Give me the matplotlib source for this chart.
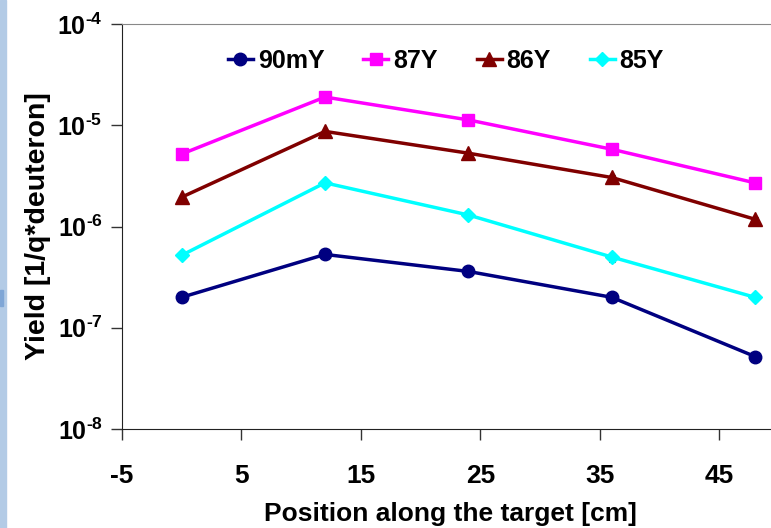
import matplotlib
matplotlib.use("Agg")
import matplotlib.pyplot as plt
from matplotlib.patches import Rectangle

# ── Data ─────────────────────────────────────────────────────────────────────
position = [0, 12, 24, 36, 48]                       # cm
yield_90mY = [2.0e-7, 5.3e-7, 3.6e-7, 2.0e-7, 5.2e-8]
yield_87Y  = [5.2e-6, 1.9e-5, 1.13e-5, 5.8e-6, 2.7e-6]
yield_86Y  = [1.95e-6, 8.7e-6, 5.3e-6, 3.05e-6, 1.18e-6]
yield_85Y  = [5.2e-7, 2.7e-6, 1.3e-6, 5.0e-7, 2.0e-7]

# small error bars visible only on the last two points of 86Y / 85Y
err_86Y = [0, 0, 0, 0.15e-6, 0.07e-6]
err_85Y = [0, 0, 0, 0.05e-6, 0.015e-6]

series = [
    ("90mY", yield_90mY, None,    "#000080", "o", 9),
    ("87Y",  yield_87Y,  None,    "#FF00FF", "s", 8),
    ("86Y",  yield_86Y,  err_86Y, "#800000", "^", 9.5),
    ("85Y",  yield_85Y,  err_85Y, "#00FFFF", "D", 7),
]

x_ticks = [-5, 5, 15, 25, 35, 45]
y_ticks = [1e-8, 1e-7, 1e-6, 1e-5, 1e-4]
y_ticklabels = [r"$10^{\text{-}8}$", r"$10^{\text{-}7}$", r"$10^{\text{-}6}$",
                r"$10^{\text{-}5}$", r"$10^{\text{-}4}$"]

plt.rcParams["font.family"] = ["Liberation Sans", "DejaVu Sans"]
plt.rcParams["font.weight"] = "bold"
plt.rcParams["mathtext.fontset"] = "custom"
plt.rcParams["mathtext.rm"] = "Liberation Sans:bold"
plt.rcParams["mathtext.it"] = "Liberation Sans:bold"
plt.rcParams["mathtext.bf"] = "Liberation Sans:bold"

fig = plt.figure(figsize=(7.71, 5.28), dpi=100)
ax = fig.add_axes([0.1582, 0.1875, 0.852, 0.767])

# slide background strip on the far left
fig.patches.append(Rectangle((0, 0), 6 / 771, 1, transform=fig.transFigure,
                             color="#b3cbe6", zorder=0))
fig.patches.append(Rectangle((0, 222 / 528), 3 / 771, 16 / 528,
                             transform=fig.transFigure, color="#7fa6d6", zorder=1))

for label, vals, err, color, marker, ms in series:
    ax.plot(position, vals, color=color, lw=2.5, marker=marker, ms=ms,
            label=label, zorder=3)
    if err is not None:
        ax.errorbar(position, vals, yerr=err, fmt="none", ecolor="black",
                    elinewidth=0.8, capsize=2.5, capthick=0.8, zorder=2)

ax.set_yscale("log")
ax.set_xlim(-5, 50)
ax.set_ylim(1e-8, 1e-4)
ax.set_xticks(x_ticks)
ax.set_xticklabels([str(t) for t in x_ticks])
ax.set_yticks(y_ticks)
ax.set_yticklabels(y_ticklabels)
ax.minorticks_off()

ax.tick_params(axis="x", direction="out", length=8, width=1, pad=17,
               labelsize=19, colors="#333333", labelcolor="black")
ax.tick_params(axis="y", direction="out", length=8, width=1, pad=6,
               labelsize=18, colors="#333333", labelcolor="black")

ax.spines["right"].set_visible(False)
ax.spines["top"].set_color("#888888")
ax.spines["left"].set_color("#222222")
ax.spines["bottom"].set_color("#222222")

ax.set_xlabel("Position along the target [cm]", fontsize=19, fontweight="bold",
              labelpad=10)
ax.set_ylabel("Yield [1/q*deuteron]", fontsize=20.5, fontweight="bold", labelpad=4)

ax.legend(loc="upper left", bbox_to_anchor=(0.146, 0.963), ncol=4, frameon=False,
          fontsize=18, handlelength=1.0, handletextpad=0.2, columnspacing=1.55,
          borderaxespad=0)

fig.savefig("out.png", dpi=100)
